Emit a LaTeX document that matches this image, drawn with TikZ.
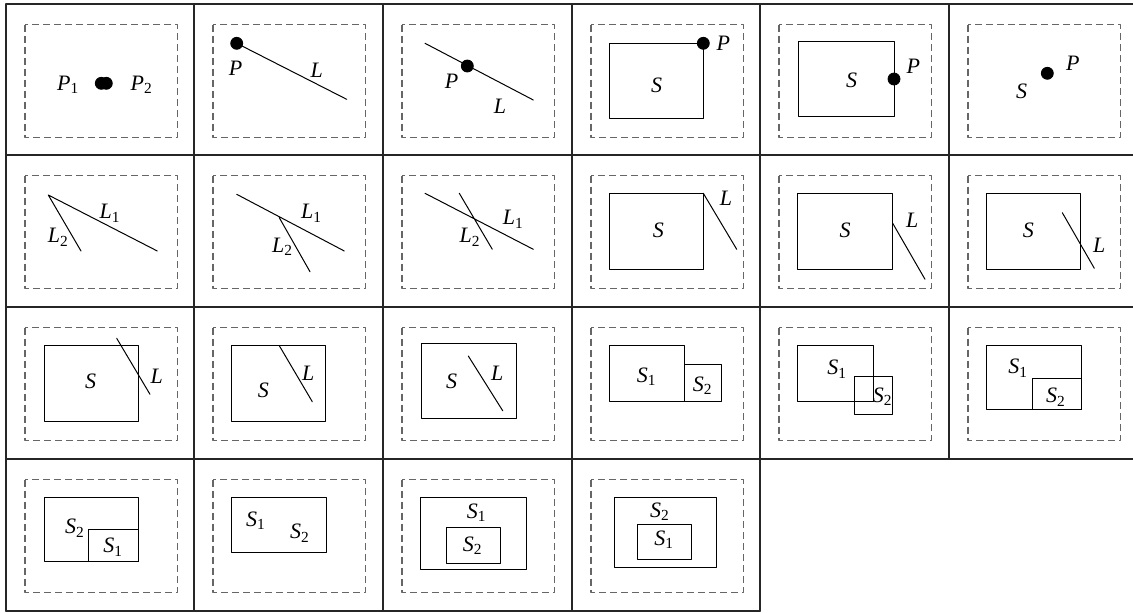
\documentclass[tikz,border=0pt]{standalone}
\usepackage{fontspec}
\setmainfont{Liberation Serif}
\tikzset{
  gridline/.style={line width=0.9pt,black!85},
  frame/.style={black!60,line width=0.55pt,line cap=butt,dash pattern=on 3.5pt off 2pt},
  obj/.style={line width=0.5pt},
  lbl/.style={inner sep=0pt,font=\fontsize{11}{13}\selectfont},
}
\newcommand{\frm}{\draw[frame] (19,20.5) rectangle (171.5,133.5);}
\newcommand{\lab}[2]{\textit{#1}\textsubscript{#2}}
\begin{document}
\begin{tikzpicture}[x=0.5pt,y=-0.5pt,line join=round,line cap=round]
\useasboundingbox (0,0) rectangle (1133,612);
% table
\foreach \y in {4,155,307,459} \draw[gridline] (6,\y) -- (1133,\y);
\draw[gridline] (6,611) -- (760,611);
\foreach \x in {6,194,383,572,760,949} \draw[gridline] (\x,4) -- (\x,459);
\foreach \x in {6,194,383,572,760} \draw[gridline] (\x,459) -- (\x,611);
% row 1
\begin{scope}[shift={(6,4)}]
  \frm
  \coordinate (A) at (95.3,79.3);
  \coordinate (B) at (100.3,79.3);
  \draw[fill=black] (A) circle (3pt) (B) circle (3pt);
  \node[lbl] (P11) at (62.3,81) {\lab{P}{1}};
  \node[lbl] (P12) at (135.7,81) {\lab{P}{2}};
\end{scope}
\begin{scope}[shift={(194,4)}]
  \frm
  \coordinate (A) at (42.7,39.3);
  \coordinate (B) at (152.7,95.3);
  \draw[obj] (A) -- (B);
  \draw[fill=black] (A) circle (3pt);
  \node[lbl] (P2) at (41.7,64.3) {\textit{P}};
  \node[lbl] (L2) at (122.7,66) {\textit{L}};
\end{scope}
\begin{scope}[shift={(383,4)}]
  \frm
  \coordinate (A) at (42,39.3);
  \coordinate (B) at (150.3,96);
  \coordinate (C) at (84.3,62);
  \draw[obj] (A) -- (B);
  \draw[fill=black] (C) circle (3pt);
  \node[lbl] (P3) at (68.7,77) {\textit{P}};
  \node[lbl] (L3) at (117,102.7) {\textit{L}};
\end{scope}
\begin{scope}[shift={(572,4)}]
  \frm
  \draw[obj] (37.3,39.3) rectangle (131.3,114.3);
  \coordinate (C) at (131.3,39.3);
  \draw[fill=black] (C) circle (3pt);
  \node[lbl] (P4) at (151.3,39.3) {\textit{P}};
  \node[lbl] (S4) at (84.7,81) {\textit{S}};
\end{scope}
\begin{scope}[shift={(760,4)}]
  \frm
  \draw[obj] (38.3,37) rectangle (134,112.7);
  \coordinate (C) at (134,75);
  \draw[fill=black] (C) circle (3pt);
  \node[lbl] (P5) at (153.3,62.7) {\textit{P}};
  \node[lbl] (S5) at (91.7,76) {\textit{S}};
\end{scope}
\begin{scope}[shift={(949,4)}]
  \frm
  \coordinate (C) at (98.3,69.3);
  \draw[fill=black] (C) circle (3pt);
  \node[lbl] (P6) at (123.7,59.3) {\textit{P}};
  \node[lbl] (S6) at (72.7,87.7) {\textit{S}};
\end{scope}
% row 2
\begin{scope}[shift={(6,155)}]
  \frm
  \coordinate (A) at (42.3,40);
  \coordinate (B) at (151.3,96);
  \coordinate (C) at (75,96);
  \draw[obj] (B) -- (A) -- (C);
  \node[lbl] (L7a) at (104,58.3) {\lab{L}{1}};
  \node[lbl] (L7b) at (52.3,82.3) {\lab{L}{2}};
\end{scope}
\begin{scope}[shift={(194,155)}]
  \frm
  \coordinate (A) at (42.7,39.3);
  \coordinate (B) at (150.3,96);
  \coordinate (C) at (85.3,62.7);
  \coordinate (D) at (116,116.7);
  \draw[obj] (A) -- (B) (C) -- (D);
  \node[lbl] (L8a) at (117.7,58.3) {\lab{L}{1}};
  \node[lbl] (L8b) at (88.7,91.7) {\lab{L}{2}};
\end{scope}
\begin{scope}[shift={(383,155)}]
  \frm
  \coordinate (A) at (42,38.3);
  \coordinate (B) at (150.3,94.3);
  \coordinate (C) at (76.3,38.3);
  \coordinate (D) at (109.3,94.3);
  \draw[obj] (A) -- (B) (C) -- (D);
  \node[lbl] (L9a) at (130.3,64.3) {\lab{L}{1}};
  \node[lbl] (L9b) at (87,82.3) {\lab{L}{2}};
\end{scope}
\begin{scope}[shift={(572,155)}]
  \frm
  \draw[obj] (37.3,38.3) rectangle (131.3,114);
  \coordinate (A) at (131.3,38.3);
  \coordinate (B) at (164.7,94.3);
  \draw[obj] (A) -- (B);
  \node[lbl] (L10) at (154,43.3) {\textit{L}};
  \node[lbl] (S10) at (86.3,75) {\textit{S}};
\end{scope}
\begin{scope}[shift={(760,155)}]
  \frm
  \draw[obj] (37.3,38.3) rectangle (132.7,114);
  \coordinate (A) at (132.7,68.3);
  \coordinate (B) at (165,124.3);
  \draw[obj] (A) -- (B);
  \node[lbl] (L11) at (152.3,65) {\textit{L}};
  \node[lbl] (S11) at (85,75) {\textit{S}};
\end{scope}
\begin{scope}[shift={(949,155)}]
  \frm
  \draw[obj] (37,38.3) rectangle (131,114);
  \coordinate (A) at (113.3,57.7);
  \coordinate (B) at (145.3,113.3);
  \draw[obj] (A) -- (B);
  \node[lbl] (L12) at (150.3,90) {\textit{L}};
  \node[lbl] (S12) at (79.3,75) {\textit{S}};
\end{scope}
% row 3
\begin{scope}[shift={(6,307)}]
  \frm
  \draw[obj] (38.3,38) rectangle (132.3,114.7);
  \coordinate (A) at (110.7,31.3);
  \coordinate (B) at (144,87.3);
  \draw[obj] (A) -- (B);
  \node[lbl] (L13) at (150.7,69) {\textit{L}};
  \node[lbl] (S13) at (84.7,74) {\textit{S}};
\end{scope}
\begin{scope}[shift={(194,307)}]
  \frm
  \draw[obj] (37.7,38) rectangle (131.7,114.7);
  \coordinate (A) at (85.3,38.7);
  \coordinate (B) at (118.3,94.7);
  \draw[obj] (A) -- (B);
  \node[lbl] (L14) at (114.3,66.3) {\textit{L}};
  \node[lbl] (S14) at (69.3,83) {\textit{S}};
\end{scope}
\begin{scope}[shift={(383,307)}]
  \frm
  \draw[obj] (38.7,36.3) rectangle (133,111.3);
  \coordinate (A) at (85.3,49);
  \coordinate (B) at (119.7,103.7);
  \draw[obj] (A) -- (B);
  \node[lbl] (L15) at (114.3,66.3) {\textit{L}};
  \node[lbl] (S15) at (68.7,74.7) {\textit{S}};
\end{scope}
\begin{scope}[shift={(572,307)}]
  \frm
  \draw[obj] (37.3,38) rectangle (112,94.7);
  \draw[obj] (112,57.3) rectangle (149.7,94.7);
  \node[lbl] (S16a) at (74.7,69.7) {\lab{S}{1}};
  \node[lbl] (S16b) at (130.7,79) {\lab{S}{2}};
\end{scope}
\begin{scope}[shift={(760,307)}]
  \frm
  \draw[obj] (37.3,38) rectangle (113.3,94.7);
  \draw[obj] (94,69.7) rectangle (132.7,107);
  \node[lbl] (S17a) at (77.3,62.3) {\lab{S}{1}};
  \node[lbl] (S17b) at (122.7,89.7) {\lab{S}{2}};
\end{scope}
\begin{scope}[shift={(949,307)}]
  \frm
  \draw[obj] (37,38) rectangle (132,102.3);
  \draw[obj] (83.3,71.3) rectangle (132,102.3);
  \node[lbl] (S18a) at (69.3,61.3) {\lab{S}{1}};
  \node[lbl] (S18b) at (107,90.3) {\lab{S}{2}};
\end{scope}
% row 4
\begin{scope}[shift={(6,459)}]
  \frm
  \draw[obj] (38.3,38.7) rectangle (132.3,102.7);
  \draw[obj] (82.3,70.3) rectangle (132.3,102.7);
  \node[lbl] (S19a) at (69,69.3) {\lab{S}{2}};
  \node[lbl] (S19b) at (107.3,88.3) {\lab{S}{1}};
\end{scope}
\begin{scope}[shift={(194,459)}]
  \frm
  \draw[obj] (37.7,38.7) rectangle (132.7,93.7);
  \node[lbl] (S20a) at (62,61.7) {\lab{S}{1}};
  \node[lbl] (S20b) at (106,74.3) {\lab{S}{2}};
\end{scope}
\begin{scope}[shift={(383,459)}]
  \frm
  \draw[obj] (37.7,38.7) rectangle (143.7,110);
  \draw[obj] (63,68.7) rectangle (117,104.3);
  \node[lbl] (S21a) at (93.7,53.7) {\lab{S}{1}};
  \node[lbl] (S21b) at (89.7,87) {\lab{S}{2}};
\end{scope}
\begin{scope}[shift={(572,459)}]
  \frm
  \draw[obj] (42.3,38.7) rectangle (144.7,108.7);
  \draw[obj] (65.7,65.3) rectangle (119.7,100);
  \node[lbl] (S22a) at (88,52.7) {\lab{S}{2}};
  \node[lbl] (S22b) at (92.3,81) {\lab{S}{1}};
\end{scope}
\end{tikzpicture}
\end{document}
